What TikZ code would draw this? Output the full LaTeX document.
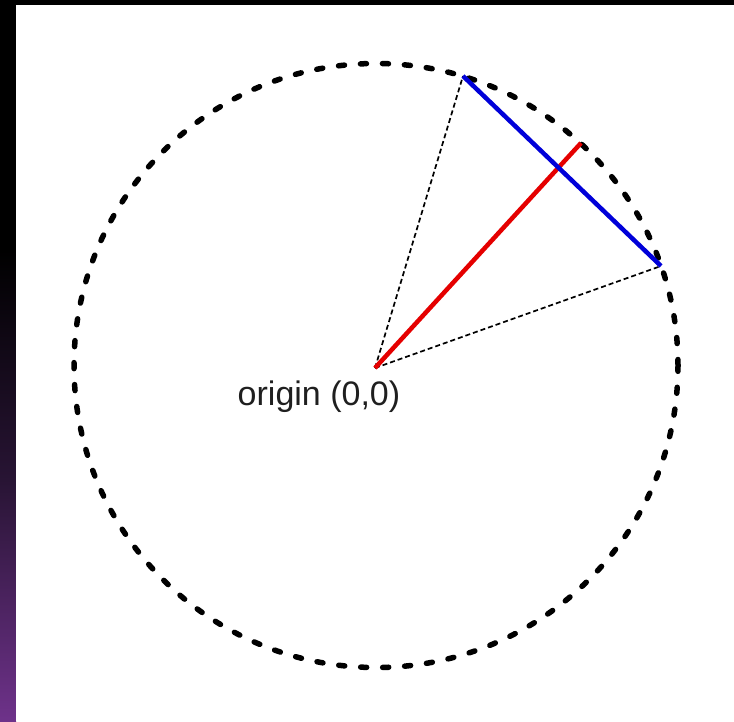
\documentclass[tikz,border=0pt]{standalone}
\usepackage{fontspec}
\setmainfont{Liberation Sans}
\definecolor{stripmid}{RGB}{40,20,52}
\definecolor{stripend}{RGB}{110,50,138}
\begin{document}
\begin{tikzpicture}[x=1pt,y=-1pt,
  ring/.style={draw=black, line width=5.5pt, line cap=round, dash pattern=on 6pt off 16pt},
  spoke/.style={draw=black, line width=1.7pt, dash pattern=on 5pt off 3pt},
  chord/.style={draw=blue!85!black, line width=4.5pt},
  radius/.style={draw=red!90!black, line width=4.5pt},
  lbl/.style={font=\fontsize{34}{36}\selectfont, text=black!88, inner sep=0pt, anchor=base}]
\useasboundingbox (0,0) rectangle (734,721);
% frame
\fill[black] (0,0) rectangle (734,5);
\fill[black] (0,5) rectangle (16,250);
\shade[top color=black, bottom color=stripmid] (0,250) rectangle (16,480);
\shade[top color=stripmid, bottom color=stripend] (0,480) rectangle (16,721);
\fill[white] (16,5) rectangle (734,721);
% points
\coordinate (O) at (375,368);
\coordinate (C) at (376,365.5);
\coordinate (A) at (463,76);
\coordinate (B) at (661,266);
\coordinate (R) at (581,143);
\node[ring, circle, minimum size=604pt, inner sep=0pt] (circ) at (C) {};
\draw[spoke] (O) -- (A);
\draw[spoke] (O) -- (B);
\draw[radius] (O) -- (R);
\draw[chord] (A) -- (B);
\node[lbl] (txt) at (319,405) {origin (0,0)};
\end{tikzpicture}
\end{document}
